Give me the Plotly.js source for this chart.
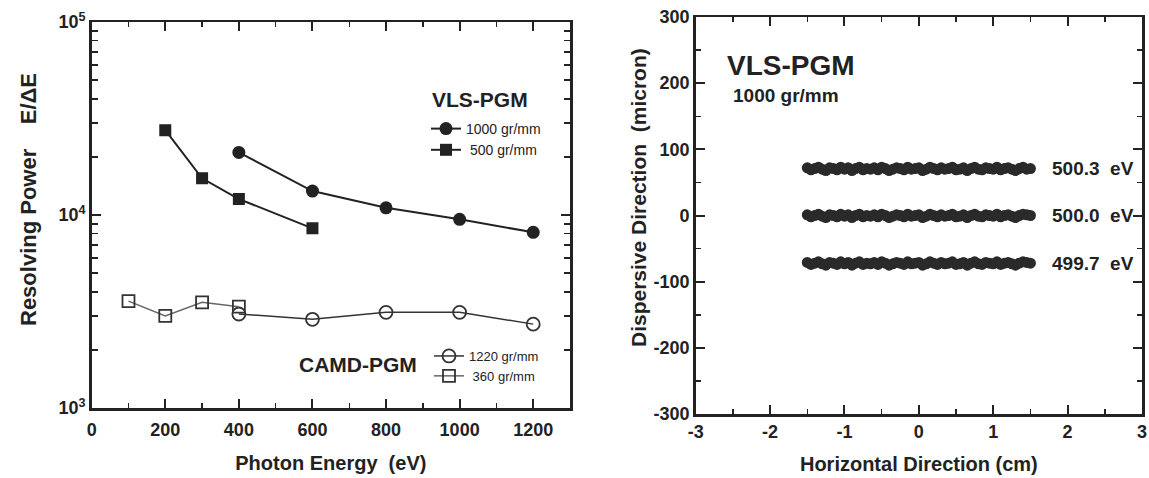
<!DOCTYPE html>
<html><head><meta charset="utf-8">
<script src="https://cdn.plot.ly/plotly-3.0.1.min.js"></script>
<style>html,body{margin:0;padding:0;background:#fff}#chart{width:1149px;height:478px}</style>
</head><body><div id="chart"></div>
<script>
// ---- Left panel: resolving power vs photon energy ----
const energyVLS1000 = [400, 600, 800, 1000, 1200];
const rpVLS1000     = [21100, 13300, 10900, 9500, 8130];
const energyVLS500  = [200, 300, 400, 600];
const rpVLS500      = [27500, 15500, 12100, 8530];
const energyCAMD1220 = [400, 600, 800, 1000, 1200];
const rpCAMD1220     = [3070, 2880, 3130, 3130, 2720];
const energyCAMD360  = [100, 200, 300, 400];
const rpCAMD360      = [3580, 3000, 3530, 3350];
const energyTickVals = [0, 200, 400, 600, 800, 1000, 1200];
const energyTickText = ['0', '200', '400', '600', '800', '1000', '1200'];
const rpTickVals = [1000, 10000, 100000];
const rpTickText = ['10<sup>3</sup>', '10<sup>4</sup>', '10<sup>5</sup>'];
const rpMinorVals = [2000,3000,4000,5000,6000,7000,8000,9000,20000,30000,40000,50000,60000,70000,80000,90000];

// ---- Right panel: spot diagram (horizontal cm, dispersive micron) ----
const hPos = [-1.50,-1.45,-1.40,-1.35,-1.30,-1.25,-1.20,-1.15,-1.10,-1.05,
              -1.00,-0.95,-0.90,-0.85,-0.80,-0.75,-0.70,-0.65,-0.60,-0.55,
              -0.50,-0.45,-0.40,-0.35,-0.30,-0.25,-0.20,-0.15,-0.10,-0.05,
               0.00, 0.05, 0.10, 0.15, 0.20, 0.25, 0.30, 0.35, 0.40, 0.45,
               0.50, 0.55, 0.60, 0.65, 0.70, 0.75, 0.80, 0.85, 0.90, 0.95,
               1.00, 1.05, 1.10, 1.15, 1.20, 1.25, 1.30, 1.35, 1.40, 1.45,
               1.50];
const spot5003 = [72,69,71,73,70,68,72,71,69,73,
                  70,72,68,71,73,69,71,70,72,69,
                  73,71,68,70,72,71,69,73,70,71,
                  72,68,70,73,71,69,72,70,71,73,
                  69,70,72,68,71,73,70,69,72,71,
                  70,73,69,71,72,70,68,71,73,70,
                  71];
const spot5000 = [1,-2,0,2,-1,-3,1,0,-2,2,
                  -1,1,-3,0,2,-2,0,-1,1,-2,
                  2,0,-3,-1,1,0,-2,2,-1,0,
                  1,-3,-1,2,0,-2,1,-1,0,2,
                  -2,-1,1,-3,0,2,-1,-2,1,0,
                  -1,2,-2,0,1,-1,-3,0,2,1,
                  0];
const spot4997 = [-71,-74,-72,-70,-73,-75,-71,-72,-74,-70,
                  -73,-71,-75,-72,-70,-74,-72,-73,-71,-74,
                  -70,-72,-75,-73,-71,-72,-74,-70,-73,-72,
                  -71,-75,-73,-70,-72,-74,-71,-73,-72,-70,
                  -74,-73,-71,-75,-72,-70,-73,-74,-71,-72,
                  -73,-70,-74,-72,-71,-73,-75,-72,-70,-71,
                  -72];
const hTickVals = [-3,-2,-1,0,1,2,3];
const hTickText = ['-3','-2','-1','0','1','2','3'];
const dTickVals = [-300,-200,-100,0,100,200,300];
const dTickText = ['-300','-200','-100','0','100','200','300'];
const spotLabels = ['500.3  eV', '500.0  eV', '499.7  eV'];
const spotLabelY = [71, 0, -72];

const FONT = 'Liberation Sans, Arial, Helvetica, sans-serif';
const INK = '#222';
const bold = arr => arr.map(t => '<b>' + t + '</b>');

const traces = [
  {x: energyVLS1000, y: rpVLS1000, name: '1000 gr/mm', mode: 'lines+markers', xaxis: 'x', yaxis: 'y', legend: 'legend',
   line: {color: INK, width: 2}, marker: {symbol: 'circle', size: 13, color: INK}},
  {x: energyVLS500, y: rpVLS500, name: ' 500 gr/mm', mode: 'lines+markers', xaxis: 'x', yaxis: 'y', legend: 'legend',
   line: {color: INK, width: 2}, marker: {symbol: 'square', size: 12, color: INK}},
  {x: energyCAMD1220, y: rpCAMD1220, name: '1220 gr/mm', mode: 'lines+markers', xaxis: 'x', yaxis: 'y', legend: 'legend2',
   line: {color: '#333', width: 1.5}, marker: {symbol: 'circle-open', size: 13, color: '#333', line: {width: 1.8}}},
  {x: energyCAMD360, y: rpCAMD360, name: ' 360 gr/mm', mode: 'lines+markers', xaxis: 'x', yaxis: 'y', legend: 'legend2',
   line: {color: '#666', width: 1.5}, marker: {symbol: 'square-open', size: 12, color: '#333', line: {width: 1.8}}},
  {x: hPos, y: spot5003, mode: 'markers', xaxis: 'x2', yaxis: 'y2', showlegend: false,
   marker: {size: 11, color: '#2a2a2a'}},
  {x: hPos, y: spot5000, mode: 'markers', xaxis: 'x2', yaxis: 'y2', showlegend: false,
   marker: {size: 11, color: '#2a2a2a'}},
  {x: hPos, y: spot4997, mode: 'markers', xaxis: 'x2', yaxis: 'y2', showlegend: false,
   marker: {size: 11, color: '#2a2a2a'}}
];

const axisBase = {
  showline: true, linecolor: INK, linewidth: 2.5, mirror: 'ticks',
  ticks: 'inside', ticklen: 9, tickwidth: 2, tickcolor: INK,
  showgrid: false, zeroline: false, fixedrange: true,
  tickfont: {family: FONT, size: 18, color: INK}
};
const titleFont = {family: FONT, size: 20, color: INK, weight: 'bold'};

const annotations = [
  {xref: 'paper', yref: 'paper', x: 28/1149, y: 1 - 200/478, xanchor: 'center', yanchor: 'middle',
   text: '<b>Resolving Power    E/ΔE</b>', textangle: -90, showarrow: false, font: {family: FONT, size: 22, color: INK}},
  {xref: 'paper', yref: 'paper', x: 638/1149, y: 1 - 198/478, xanchor: 'center', yanchor: 'middle',
   text: '<b>Dispersive Direction  (micron)</b>', textangle: -90, showarrow: false, font: {family: FONT, size: 21, color: INK}},
  {xref: 'paper', yref: 'paper', x: 430/1149, y: 1 - 99/478, xanchor: 'left', yanchor: 'middle', text: '<b>VLS-PGM</b>',
   showarrow: false, font: {family: FONT, size: 21, color: INK}},
  {xref: 'paper', yref: 'paper', x: 358/1149, y: 1 - 364/478, xanchor: 'center', yanchor: 'middle', text: '<b>CAMD-PGM</b>',
   showarrow: false, font: {family: FONT, size: 21, color: INK}},
  {xref: 'paper', yref: 'paper', x: 725/1149, y: 1 - 65/478, xanchor: 'left', yanchor: 'middle', text: '<b>VLS-PGM</b>',
   showarrow: false, font: {family: FONT, size: 28, color: INK}},
  {xref: 'paper', yref: 'paper', x: 731/1149, y: 1 - 96/478, xanchor: 'left', yanchor: 'middle', text: '<b>1000 gr/mm</b>',
   showarrow: false, font: {family: FONT, size: 19, color: INK}}
];
spotLabels.forEach((t, i) => annotations.push({
  xref: 'paper', yref: 'y2', x: 1050/1149, y: spotLabelY[i], xanchor: 'left', yanchor: 'middle', text: '<b>' + t + '</b>',
  showarrow: false, font: {family: FONT, size: 19, color: INK}
}));

const layout = {
  width: 1149, height: 478, margin: {l: 0, r: 0, t: 0, b: 0},
  paper_bgcolor: '#fff', plot_bgcolor: 'rgba(0,0,0,0)',
  font: {family: FONT, color: INK},
  xaxis: Object.assign({}, axisBase, {domain: [91.7/1149, 570/1149], anchor: 'y', range: [0, 1300],
    tickmode: 'array', tickvals: energyTickVals, ticktext: bold(energyTickText), ticklabelstandoff: 4,
    minor: {ticks: 'inside', ticklen: 5, tickwidth: 1.5, tickcolor: INK, dtick: 100, tick0: 0, showgrid: false},
    title: {text: 'Photon Energy  (eV)', standoff: 17, font: titleFont}}),
  yaxis: Object.assign({}, axisBase, {domain: [1 - 408/478, 1 - 22/478], anchor: 'x', type: 'log', range: [3, 5],
    tickmode: 'array', tickvals: rpTickVals, ticktext: bold(rpTickText),
    minor: {ticks: 'inside', ticklen: 6, tickwidth: 1.5, tickcolor: INK, tickmode: 'array', tickvals: rpMinorVals, showgrid: false}}),
  xaxis2: Object.assign({}, axisBase, {domain: [695.7/1149, 1142/1149], anchor: 'y2', range: [-3, 3],
    tickmode: 'array', tickvals: hTickVals, ticktext: bold(hTickText),
    minor: {ticks: 'inside', ticklen: 5, tickwidth: 1.5, tickcolor: INK, dtick: 0.5, tick0: 0, showgrid: false},
    title: {text: 'Horizontal Direction (cm)', standoff: 16, font: titleFont}}),
  yaxis2: Object.assign({}, axisBase, {domain: [1 - 414/478, 1 - 17/478], anchor: 'x2', range: [-300, 300],
    tickmode: 'array', tickvals: dTickVals, ticktext: bold(dTickText),
    minor: {ticks: 'inside', ticklen: 5, tickwidth: 1.5, tickcolor: INK, dtick: 50, tick0: 0, showgrid: false}}),
  showlegend: true,
  legend: {x: 426/1149, y: 1 - 113/478, xanchor: 'left', yanchor: 'top', bgcolor: 'rgba(0,0,0,0)',
    font: {family: FONT, size: 14, color: INK}, tracegroupgap: 0, itemclick: false, itemdoubleclick: false},
  legend2: {x: 429/1149, y: 1 - 341/478, xanchor: 'left', yanchor: 'top', bgcolor: 'rgba(0,0,0,0)',
    font: {family: FONT, size: 13, color: INK}, tracegroupgap: 0, itemclick: false, itemdoubleclick: false},
  annotations: annotations
};

Plotly.newPlot('chart', traces, layout, {displayModeBar: false, staticPlot: true});
</script>
</body></html>
